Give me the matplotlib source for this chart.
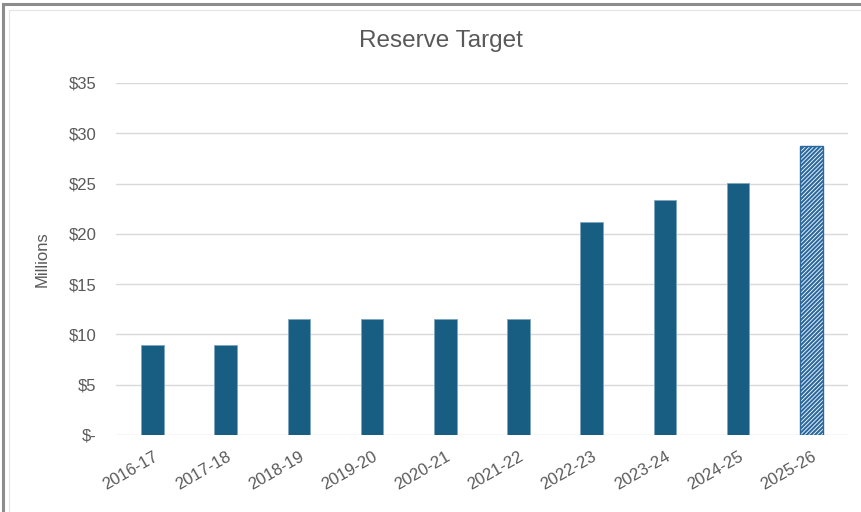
import matplotlib
matplotlib.use("Agg")
import matplotlib.pyplot as plt
from matplotlib import font_manager
from matplotlib.patches import Rectangle

years = ["2016-17", "2017-18", "2018-19", "2019-20", "2020-21",
         "2021-22", "2022-23", "2023-24", "2024-25", "2025-26"]
reserve = [8.9, 8.9, 11.5, 11.5, 11.5, 11.5, 21.2, 23.4, 25.1, 28.75]
projected = [False] * 9 + [True]
yticks = [0, 5, 10, 15, 20, 25, 30, 35]
ytick_labels = ["$-", "$5", "$10", "$15", "$20", "$25", "$30", "$35"]

names = {f.name for f in font_manager.fontManager.ttflist}
title_font = "Liberation Sans Narrow" if "Liberation Sans Narrow" in names else "Liberation Sans"

BAR = "#175e82"
HATCH = "#2a69a0"
TEXT = "#595959"
GRID = "#d9d9d9"

plt.rcParams["font.family"] = ["Liberation Sans", "DejaVu Sans"]
plt.rcParams["hatch.linewidth"] = 1.5
plt.rcParams["hatch.color"] = HATCH

fig = plt.figure(figsize=(8.61, 5.12), dpi=100)
ax = fig.add_axes([0.1347, 0.1504, 0.850, 0.6875])

x = list(range(len(years)))
for i, v in enumerate(reserve):
    if projected[i]:
        ax.bar(i, v, width=0.31, color="white", edgecolor=HATCH,
               hatch="////////", linewidth=1.0, zorder=3)
    else:
        ax.bar(i, v, width=0.31, color=BAR, edgecolor="#7fa6bd",
               linewidth=0.6, zorder=3)

ax.set_xlim(-0.5, len(years) - 0.5)
ax.set_ylim(0, 35)
ax.set_yticks(yticks)
ax.set_yticklabels(ytick_labels)
ax.set_xticks(x)
ax.set_xticklabels(years, rotation=30, ha="right", rotation_mode="anchor")
ax.tick_params(axis="both", length=0, colors=TEXT, labelsize=12)
ax.tick_params(axis="y", pad=14)
ax.tick_params(axis="x", pad=10)
ax.grid(axis="y", color=GRID, linewidth=1.0, zorder=0)
for s in ax.spines.values():
    s.set_visible(False)

ax.set_ylabel("Millions", color=TEXT, fontsize=12, labelpad=14)
fig.text(0.512, 0.92, "Reserve Target", ha="center", va="center",
         fontsize=17.5, color=TEXT, family=[title_font, "DejaVu Sans"])

# chart frame
fig.patches.append(Rectangle((0.004, -0.01), 1.2, 1.002, transform=fig.transFigure,
                             fill=False, edgecolor="#8c8c8c", linewidth=2.2))
fig.patches.append(Rectangle((0.010, -0.01), 1.2, 0.990, transform=fig.transFigure,
                             fill=False, edgecolor="#e3e3e3", linewidth=0.8))

fig.savefig("out.png", dpi=100)
